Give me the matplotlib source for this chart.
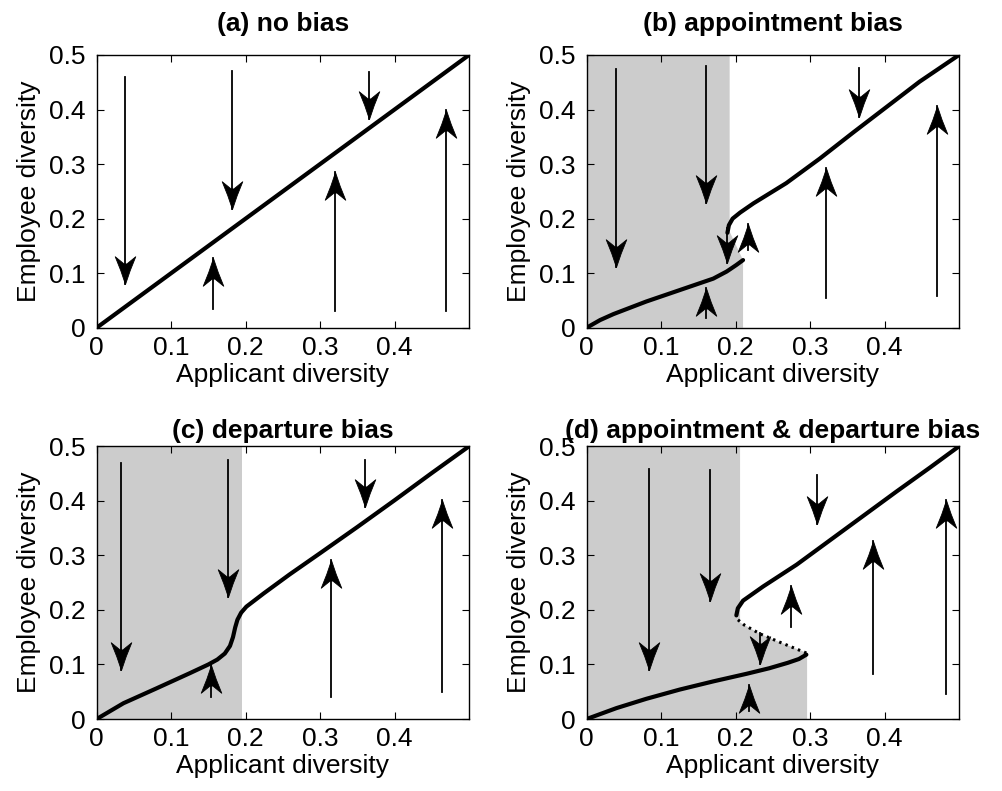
import numpy as np
import matplotlib
matplotlib.use('Agg')
import matplotlib.pyplot as plt
from matplotlib.path import Path

plt.rcParams.update({
    'font.family': ['Liberation Sans', 'DejaVu Sans'],
    'font.size': 19,
    'axes.titlesize': 19,
    'axes.linewidth': 1.0,
    'xtick.direction': 'in',
    'ytick.direction': 'in',
    'xtick.top': True,
    'ytick.right': True,
    'xtick.major.size': 5,
    'ytick.major.size': 5,
    'xtick.major.pad': 6,
    'ytick.major.pad': 8,
})

# ── Data ────────────────────────────────────────────────────────────────────
titles = ['(a) no bias', '(b) appointment bias',
          '(c) departure bias', '(d) appointment & departure bias']

# equilibrium curves
a_x = [0.0, 0.5]
a_y = [0.0, 0.5]

b_low_x = [0.0, 0.018, 0.036, 0.080, 0.125, 0.170, 0.188, 0.201, 0.210]
b_low_y = [0.0, 0.014, 0.025, 0.048, 0.069, 0.090, 0.103, 0.115, 0.124]
b_up_x = [0.189, 0.191, 0.196, 0.206, 0.224, 0.268, 0.313, 0.358, 0.403, 0.447, 0.500]
b_up_y = [0.174, 0.188, 0.200, 0.211, 0.228, 0.265, 0.310, 0.358, 0.405, 0.451, 0.500]

c_x = [0.0, 0.036, 0.080, 0.125, 0.150, 0.162, 0.172, 0.179, 0.183, 0.186, 0.189, 0.194,
       0.201, 0.224, 0.259, 0.300, 0.350, 0.400, 0.450, 0.500]
c_y = [0.0, 0.029, 0.056, 0.084, 0.100, 0.109, 0.120, 0.134, 0.150, 0.168, 0.182, 0.195,
       0.206, 0.230, 0.265, 0.304, 0.352, 0.401, 0.451, 0.500]

d_low_x = [0.0, 0.020, 0.040, 0.080, 0.125, 0.170, 0.215, 0.245, 0.270, 0.285, 0.295]
d_low_y = [0.0, 0.010, 0.020, 0.037, 0.054, 0.069, 0.083, 0.093, 0.103, 0.110, 0.118]
d_mid_x = [0.295, 0.259, 0.233, 0.212, 0.203, 0.201]
d_mid_y = [0.121, 0.141, 0.156, 0.172, 0.182, 0.188]
d_up_x = [0.201, 0.203, 0.210, 0.237, 0.282, 0.326, 0.371, 0.416, 0.461, 0.500]
d_up_y = [0.190, 0.203, 0.217, 0.243, 0.283, 0.327, 0.372, 0.417, 0.461, 0.500]

# grey basin of the low equilibrium
b_shade_x = [0, 0, 0.192, 0.192, 0.210, 0.210]
b_shade_y = [0, 0.5, 0.5, 0.176, 0.124, 0]
c_shade_x = [0, 0, 0.1945, 0.1945]
c_shade_y = [0, 0.5, 0.5, 0]
d_shade_x = [0, 0, 0.206, 0.206, 0.212, 0.233, 0.259, 0.296, 0.296]
d_shade_y = [0, 0.5, 0.5, 0.177, 0.172, 0.156, 0.141, 0.121, 0]

# flow arrows: x, start y, tip y
a_arr_x = [0.038, 0.182, 0.365, 0.156, 0.320, 0.469]
a_arr_y0 = [0.459, 0.471, 0.468, 0.034, 0.031, 0.031]
a_arr_y1 = [0.081, 0.217, 0.382, 0.127, 0.286, 0.399]

b_arr_x = [0.040, 0.160, 0.188, 0.366, 0.217, 0.160, 0.322, 0.471]
b_arr_y0 = [0.474, 0.480, 0.182, 0.477, 0.142, 0.017, 0.055, 0.058]
b_arr_y1 = [0.112, 0.228, 0.118, 0.387, 0.191, 0.072, 0.292, 0.406]

c_arr_x = [0.033, 0.176, 0.360, 0.153, 0.315, 0.464]
c_arr_y0 = [0.469, 0.474, 0.474, 0.041, 0.041, 0.050]
c_arr_y1 = [0.089, 0.224, 0.388, 0.099, 0.291, 0.402]

d_arr_x = [0.084, 0.165, 0.309, 0.233, 0.274, 0.218, 0.384, 0.482]
d_arr_y0 = [0.459, 0.456, 0.447, 0.158, 0.169, 0.014, 0.082, 0.045]
d_arr_y1 = [0.089, 0.217, 0.358, 0.101, 0.244, 0.063, 0.327, 0.402]

xticks = [0, 0.1, 0.2, 0.3, 0.4]
yticks = [0, 0.1, 0.2, 0.3, 0.4, 0.5]

# ── Arrow head markers (tip at origin) ──────────────────────────────────────
head = [(0, 0), (0.17, 0.5), (0.37, 1.0), (0.05, 0.74),
        (-0.05, 0.74), (-0.37, 1.0), (-0.17, 0.5), (0, 0)]
HEAD_DOWN = Path(head, closed=True)
HEAD_UP = Path([(x, -y) for x, y in head], closed=True)

GREY = '#cccccc'


def arrows(ax, xs, y0s, y1s):
    for x, y0, y1 in zip(xs, y0s, y1s):
        ax.plot([x, x], [y0, y1], color='black', lw=1.3, zorder=2)
        mk = HEAD_DOWN if y1 < y0 else HEAD_UP
        ax.plot([x], [y1], marker=mk, ms=40, color='black', mew=0.6,
                linestyle='none', zorder=3)


def style(ax, title, pad):
    ax.set_xlim(0, 0.5)
    ax.set_ylim(0, 0.5)
    ax.set_xticks(xticks)
    ax.set_yticks(yticks)
    ax.set_xticklabels(['0', '0.1', '0.2', '0.3', '0.4'])
    ax.set_yticklabels(['0', '0.1', '0.2', '0.3', '0.4', '0.5'])
    ax.set_xlabel('Applicant diversity', labelpad=2)
    ax.set_ylabel('Employee diversity', labelpad=6)
    ax.set_title(title, fontweight='bold', pad=pad)


fig = plt.figure(figsize=(10.02, 7.91), dpi=100)
W, H = 0.3716, 0.3448
axa = fig.add_axes([0.0965, 0.5857, W, H])
axb = fig.add_axes([0.5855, 0.5857, W, H])
axc = fig.add_axes([0.0965, 0.0910, W, H])
axd = fig.add_axes([0.5855, 0.0910, W, H])

LW = 3.0

# (a)
arrows(axa, a_arr_x, a_arr_y0, a_arr_y1)
axa.plot(a_x, a_y, color='black', lw=LW, zorder=4)
style(axa, titles[0], 17)

# (b)
axb.fill(b_shade_x, b_shade_y, color=GREY, lw=0, zorder=0)
arrows(axb, b_arr_x, b_arr_y0, b_arr_y1)
axb.plot(b_low_x, b_low_y, color='black', lw=LW, zorder=4, solid_capstyle='round')
axb.plot(b_up_x, b_up_y, color='black', lw=LW, zorder=4, solid_capstyle='round')
style(axb, titles[1], 17)

# (c)
axc.fill(c_shade_x, c_shade_y, color=GREY, lw=0, zorder=0)
arrows(axc, c_arr_x, c_arr_y0, c_arr_y1)
axc.plot(c_x, c_y, color='black', lw=LW, zorder=4, solid_joinstyle='round')
style(axc, titles[2], 6)

# (d)
axd.fill(d_shade_x, d_shade_y, color=GREY, lw=0, zorder=0)
arrows(axd, d_arr_x, d_arr_y0, d_arr_y1)
axd.plot(d_low_x, d_low_y, color='black', lw=LW, zorder=4, solid_capstyle='round')
axd.plot(d_mid_x, d_mid_y, color='black', lw=2.2, zorder=4, linestyle=(0, (0.8, 1.4)))
axd.plot(d_up_x, d_up_y, color='black', lw=LW, zorder=4, solid_capstyle='round')
style(axd, titles[3], 6)

fig.savefig('out.png', dpi=100)
